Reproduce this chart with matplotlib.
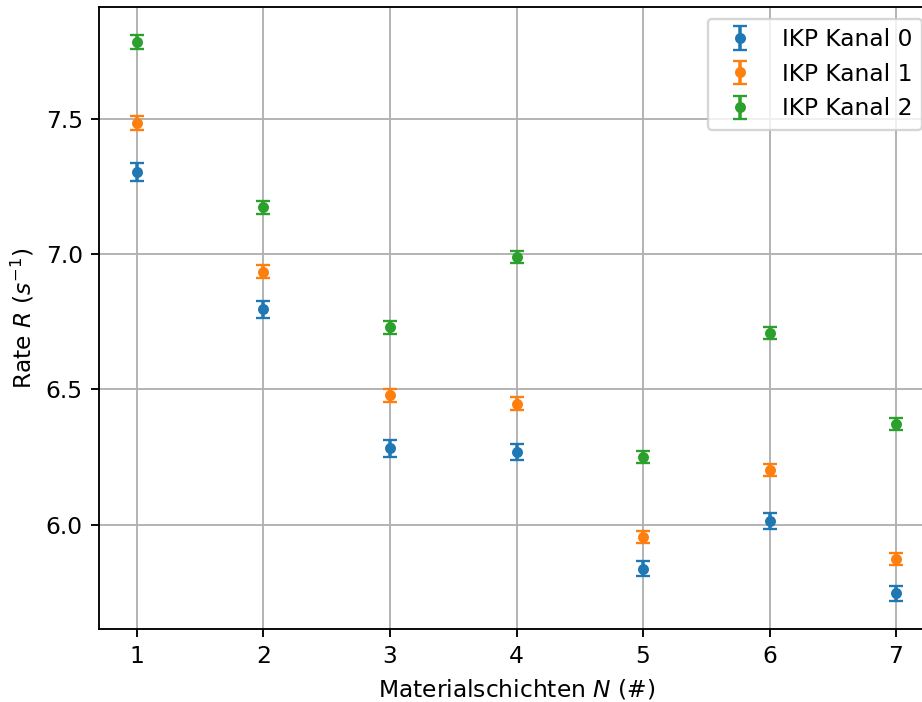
import matplotlib
matplotlib.use('Agg')
import matplotlib.pyplot as plt

schichten = [1, 2, 3, 4, 5, 6, 7]

kanal_0 = [7.305, 6.796, 6.282, 6.268, 5.836, 6.014, 5.746]
kanal_0_err = [0.032, 0.032, 0.031, 0.030, 0.028, 0.030, 0.028]

kanal_1 = [7.486, 6.936, 6.478, 6.448, 5.955, 6.202, 5.873]
kanal_1_err = [0.025, 0.025, 0.025, 0.023, 0.022, 0.022, 0.022]

kanal_2 = [7.786, 7.175, 6.730, 6.990, 6.251, 6.709, 6.372]
kanal_2_err = [0.025, 0.024, 0.023, 0.023, 0.023, 0.022, 0.021]

labels = ['IKP Kanal 0', 'IKP Kanal 1', 'IKP Kanal 2']

DPI = 168
fig = plt.figure(figsize=(923 / DPI, 702 / DPI), dpi=DPI)
# axes run past the right edge, like in the cropped original
ax = fig.add_axes([99 / 923, 73 / 702, 835 / 923, 622 / 702])

for werte, fehler, label in zip([kanal_0, kanal_1, kanal_2],
                                [kanal_0_err, kanal_1_err, kanal_2_err], labels):
    ax.errorbar(schichten, werte, yerr=fehler, fmt='o', markersize=3.7,
                capsize=3, label=label)

ax.set_xlabel('Materialschichten $N$ (#)')
ax.set_ylabel('Rate $R$ ($s^{-1}$)')
ax.set_yticks([6.0, 6.5, 7.0, 7.5])
ax.grid(True)
ax.legend(loc='upper right')

fig.savefig('out.png', dpi=DPI)
